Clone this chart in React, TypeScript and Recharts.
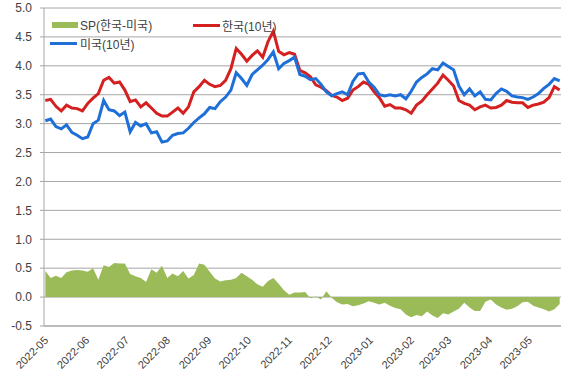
import React from "react";
import {
  ComposedChart,
  Area,
  Line,
  XAxis,
  YAxis,
  CartesianGrid,
  Legend,
} from "recharts";

// values, one point every 4 days from 2022-05-02
const krYield = [
  3.40, 3.42, 3.30, 3.22, 3.32, 3.27, 3.26, 3.22, 3.35, 3.44,
  3.52, 3.75, 3.80, 3.70, 3.72, 3.58, 3.38, 3.41, 3.29, 3.36,
  3.27, 3.18, 3.13, 3.13, 3.20, 3.27, 3.18, 3.29, 3.55, 3.64,
  3.75, 3.68, 3.64, 3.66, 3.75, 3.95, 4.30, 4.20, 4.08, 4.18,
  4.26, 4.15, 4.42, 4.60, 4.25, 4.19, 4.23, 4.20, 3.92, 3.88,
  3.81, 3.67, 3.63, 3.57, 3.49, 3.46, 3.40, 3.44, 3.58, 3.64,
  3.72, 3.68, 3.55, 3.45, 3.30, 3.33, 3.27, 3.27, 3.24, 3.18,
  3.32, 3.39, 3.50, 3.60, 3.70, 3.84, 3.75, 3.65, 3.40, 3.35,
  3.32, 3.24, 3.29, 3.32, 3.27, 3.28, 3.32, 3.40, 3.37, 3.36,
  3.36, 3.28, 3.32, 3.34, 3.37, 3.45, 3.64, 3.58,
];

const usYield = [
  3.05, 3.08, 2.95, 2.91, 2.98, 2.85, 2.80, 2.74, 2.77, 3.00,
  3.06, 3.40, 3.24, 3.22, 3.14, 3.20, 2.86, 3.02, 2.96, 3.00,
  2.84, 2.86, 2.68, 2.70, 2.80, 2.83, 2.84, 2.92, 3.02, 3.10,
  3.17, 3.28, 3.26, 3.38, 3.46, 3.58, 3.88, 3.78, 3.66, 3.85,
  3.93, 4.01, 4.11, 4.24, 3.95, 4.04, 4.09, 4.15, 3.85, 3.82,
  3.76, 3.78, 3.68, 3.55, 3.48, 3.52, 3.55, 3.50, 3.73, 3.86,
  3.87, 3.72, 3.63, 3.50, 3.48, 3.50, 3.48, 3.50, 3.43, 3.56,
  3.72, 3.80, 3.86, 3.95, 3.93, 4.05, 3.99, 3.93, 3.65, 3.50,
  3.60, 3.48, 3.55, 3.42, 3.41, 3.52, 3.60, 3.56, 3.48, 3.46,
  3.45, 3.42, 3.46, 3.52, 3.61, 3.68, 3.78, 3.74,
];

const spread = [
  0.45, 0.33, 0.37, 0.33, 0.43, 0.46, 0.47, 0.46, 0.44, 0.50,
  0.30, 0.55, 0.52, 0.59, 0.58, 0.58, 0.40, 0.36, 0.33, 0.26,
  0.48, 0.42, 0.54, 0.33, 0.41, 0.36, 0.45, 0.32, 0.38, 0.58,
  0.56, 0.44, 0.32, 0.27, 0.29, 0.30, 0.33, 0.42, 0.36, 0.30,
  0.22, 0.18, 0.28, 0.33, 0.23, 0.12, 0.04, 0.08, 0.08, 0.09,
  -0.02, 0.01, -0.04, 0.10, -0.01, -0.09, -0.13, -0.12, -0.16, -0.14,
  -0.11, -0.07, -0.10, -0.13, -0.10, -0.15, -0.19, -0.21, -0.30, -0.35,
  -0.31, -0.33, -0.25, -0.32, -0.36, -0.28, -0.30, -0.25, -0.20, -0.10,
  -0.18, -0.24, -0.24, -0.08, -0.04, -0.13, -0.18, -0.22, -0.20, -0.16,
  -0.09, -0.08, -0.15, -0.18, -0.21, -0.25, -0.21, -0.12,
];

const monthLabels = [
  "2022-05", "2022-06", "2022-07", "2022-08", "2022-09", "2022-10", "2022-11",
  "2022-12", "2023-01", "2023-02", "2023-03", "2023-04", "2023-05",
];

const yTicks = [-0.5, 0, 0.5, 1, 1.5, 2, 2.5, 3, 3.5, 4, 4.5, 5];

const START = Date.UTC(2022, 4, 1);
const DAY = 86400000;
const dayOf = (label: string) => {
  const [y, m] = label.split("-").map(Number);
  return (Date.UTC(y, m - 1, 1) - START) / DAY;
};
const monthTicks = monthLabels.map(dayOf);
const labelByDay: Record<number, string> = {};
monthLabels.forEach((l, i) => (labelByDay[monthTicks[i]] = l));

const data = krYield.map((kr, i) => ({
  day: 1 + 4 * i,
  kr,
  us: usYield[i],
  sp: spread[i],
}));

const FONT = "'Liberation Sans', 'Noto Sans CJK KR', sans-serif";
const TEXT = "#404040";
const GRID = "#a6a6a6";
const GREEN = "#9bbb59";
const RED = "#d42020";
const BLUE = "#1f6fd8";

const MonthTick = (props: any) => {
  const { x, y, payload } = props;
  const ax = x + 5;
  const ay = y + 7;
  return (
    <text
      x={ax}
      y={ay}
      textAnchor="end"
      fontSize={11}
      fontFamily={FONT}
      fill={TEXT}
      transform={`rotate(-45, ${ax}, ${ay})`}
    >
      {labelByDay[payload.value]}
    </text>
  );
};

const LegendBox = () => (
  <div style={{ position: "relative", height: 0, fontFamily: FONT, fontSize: 12, color: TEXT }}>
    <div style={{ position: "absolute", left: 52, top: 22, width: 26, height: 6, background: GREEN }} />
    <div style={{ position: "absolute", left: 80, top: 16, whiteSpace: "nowrap" }}>SP(한국-미국)</div>
    <div style={{ position: "absolute", left: 193, top: 24, width: 27, height: 3, background: RED }} />
    <div style={{ position: "absolute", left: 222, top: 17, whiteSpace: "nowrap" }}>한국(10년)</div>
    <div style={{ position: "absolute", left: 50, top: 42, width: 27, height: 3, background: BLUE }} />
    <div style={{ position: "absolute", left: 80, top: 35, whiteSpace: "nowrap" }}>미국(10년)</div>
  </div>
);

export default function App() {
  return (
    <div style={{ position: "absolute", left: 0, top: 0, width: 580, height: 378, background: "#fff" }}>
      <ComposedChart
        width={580}
        height={378}
        data={data}
        margin={{ top: 8, right: 19, bottom: 0, left: 0 }}
      >
        <CartesianGrid horizontal vertical={false} stroke={GRID} />
        <XAxis
          dataKey="day"
          type="number"
          domain={[0, 390]}
          ticks={monthTicks}
          interval={0}
          height={52}
          tick={<MonthTick />}
          tickLine={false}
          axisLine={{ stroke: GRID }}
        />
        <YAxis
          type="number"
          domain={[-0.5, 5]}
          ticks={yTicks}
          interval={0}
          width={44}
          tickFormatter={(v: number) => v.toFixed(1)}
          tick={{ fontSize: 12, fontFamily: FONT, fill: TEXT }}
          tickSize={4}
          tickMargin={8}
          tickLine={{ stroke: GRID }}
          axisLine={{ stroke: GRID }}
        />
        <Legend
          content={<LegendBox />}
          wrapperStyle={{ position: "absolute", top: 0, left: 0, width: 580, height: 0 }}
        />
        <Area
          dataKey="sp"
          name="SP(한국-미국)"
          type="linear"
          baseValue={0}
          fill={GREEN}
          fillOpacity={1}
          stroke="none"
          isAnimationActive={false}
        />
        <Line
          dataKey="kr"
          name="한국(10년)"
          type="linear"
          stroke={RED}
          strokeWidth={3}
          dot={false}
          isAnimationActive={false}
        />
        <Line
          dataKey="us"
          name="미국(10년)"
          type="linear"
          stroke={BLUE}
          strokeWidth={3}
          dot={false}
          isAnimationActive={false}
        />
      </ComposedChart>
    </div>
  );
}
